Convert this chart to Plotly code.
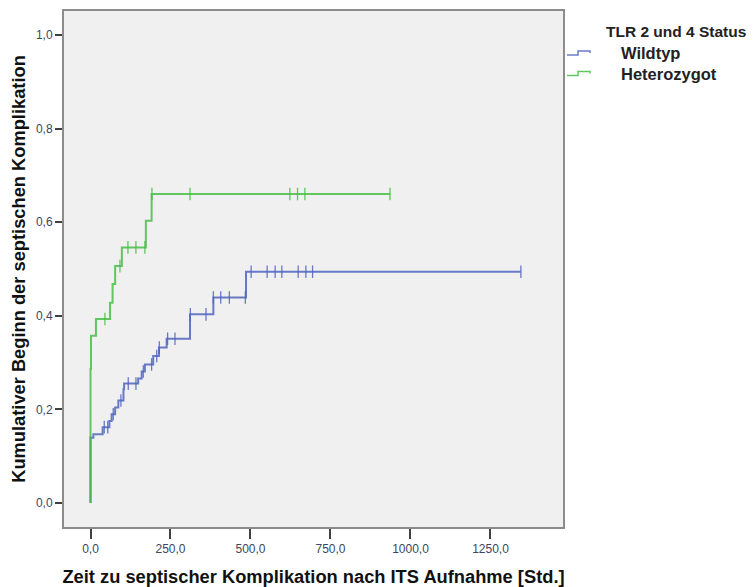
import plotly.graph_objects as go

# ---------------- data ----------------
series_names = ["Wildtyp", "Heterozygot"]

# Wildtyp: event times (h) and cumulative incidence after each event
wild_times = [0, 0, 9, 38, 59, 66, 77, 87, 103, 105, 149, 160, 170, 196, 214, 238, 311, 384, 486]
wild_vals = [0.0, 0.1395, 0.147, 0.162, 0.175, 0.1895, 0.204, 0.219, 0.243, 0.255, 0.266, 0.281,
             0.296, 0.314, 0.332, 0.351, 0.403, 0.439, 0.494]
wild_censored = [43, 54, 71, 95, 118, 142, 165, 191, 207, 215, 241, 264, 312, 361, 384, 407, 434,
                 484, 502, 552, 577, 598, 649, 673, 694, 1345]

# Heterozygot
het_times = [0, 0, 1.5, 17, 61, 69, 77, 98, 173, 191]
het_vals = [0.0, 0.286, 0.357, 0.393, 0.428, 0.468, 0.506, 0.546, 0.603, 0.660]
het_censored = [45, 92, 117, 142, 170, 192, 311, 623, 647, 670, 936]

x_tickvals = [0, 250, 500, 750, 1000, 1250]
x_ticktext = ["0,0", "250,0", "500,0", "750,0", "1000,0", "1250,0"]
y_tickvals = [0.0, 0.2, 0.4, 0.6, 0.8, 1.0]
y_ticktext = ["0,0", "0,2", "0,4", "0,6", "0,8", "1,0"]

legend_title = "TLR 2 und 4 Status"
x_title = "Zeit zu septischer Komplikation nach ITS Aufnahme [Std.]"
y_title = "Kumulativer Beginn der septischen Komplikation"

# ---------------- styling ----------------
colors = {"Wildtyp": "rgba(80,100,190,0.85)", "Heterozygot": "rgba(70,190,70,0.85)"}
FONT = "Liberation Sans, Arial, sans-serif"
OFF = 8  # browser default body margin
W, H = 756 - OFF, 587 - OFF
L, R, T, B = 64 - OFF, 193, 11 - OFF, 60


def step_value(times, vals, t):
    v = vals[0]
    for tt, vv in zip(times, vals):
        if tt <= t:
            v = vv
    return v


fig = go.Figure()

for name, times, vals, cens in [
    ("Wildtyp", wild_times, wild_vals, wild_censored),
    ("Heterozygot", het_times, het_vals, het_censored),
]:
    end_t = max(cens[-1], times[-1])
    xs = list(times) + [end_t]
    ys = list(vals) + [vals[-1]]
    fig.add_trace(go.Scatter(
        x=xs, y=ys, mode="lines", line=dict(shape="hv", color=colors[name], width=2),
        name=name, showlegend=False, hoverinfo="skip"))
    fig.add_trace(go.Scatter(
        x=cens, y=[step_value(times, vals, c) for c in cens], mode="markers",
        marker=dict(symbol="line-ns-open", size=9, color=colors[name],
                    line=dict(color=colors[name], width=1.3)),
        name=name + " zensiert", showlegend=False, hoverinfo="skip"))

pw = W - L - R
ph = H - T - B


def px_x(px):
    return (px - OFF - L) / pw


def px_y(py):
    return (H - B - (py - OFF)) / ph


# manual legend
annotations = [
    dict(text="<b>" + legend_title + "</b>", x=px_x(604), y=px_y(32), xref="paper", yref="paper",
         xanchor="left", yanchor="middle", showarrow=False, font=dict(family=FONT, size=15.5, color="#222")),
]
shapes = []
for i, name in enumerate(series_names):
    yc = 53 + i * 20.5
    annotations.append(dict(text="<b>" + name + "</b>", x=px_x(619), y=px_y(yc), xref="paper", yref="paper",
                            xanchor="left", yanchor="middle", showarrow=False,
                            font=dict(family=FONT, size=16.5, color="#222")))
    lo, hi = yc + 2, yc - 2
    path = (f"M {px_x(567)},{px_y(lo)} L {px_x(578)},{px_y(lo)} L {px_x(578)},{px_y(hi)} "
            f"L {px_x(590)},{px_y(hi)} L {px_x(590)},{px_y(hi + 2)}")
    shapes.append(dict(type="path", path=path, xref="paper", yref="paper",
                       line=dict(color=colors[name], width=1.5)))

fig.update_layout(
    width=W, height=H,
    margin=dict(l=L, r=R, t=T, b=B),
    paper_bgcolor="white", plot_bgcolor="#f0f0f0",
    font=dict(family=FONT, size=12, color="#3c4660"),
    annotations=annotations, shapes=shapes,
    showlegend=False,
)
fig.update_xaxes(
    automargin=False,
    range=[-82.8, 1476.6], tickvals=x_tickvals, ticktext=x_ticktext,
    showgrid=False, zeroline=False, showline=True, linecolor="#8c8c8c", linewidth=2, mirror=True,
    ticks="outside", ticklen=10, tickwidth=2, tickcolor="#404040",
    tickfont=dict(family=FONT, size=12, color="#3c4660"),
    title=dict(text="<b>" + x_title + "</b>", font=dict(family=FONT, size=18.3, color="#111"), standoff=15),
)
fig.update_yaxes(
    automargin=False,
    range=[-0.0513, 1.051], tickvals=y_tickvals, ticktext=y_ticktext,
    showgrid=False, zeroline=False, showline=True, linecolor="#8c8c8c", linewidth=2, mirror=True,
    ticks="outside", ticklen=7, tickwidth=2, tickcolor="#404040",
    tickfont=dict(family=FONT, size=12, color="#3c4660"),
    title=dict(text="<b>" + y_title + "</b>", font=dict(family=FONT, size=18.3, color="#111"), standoff=10),
)

fig.write_html("out.html")
